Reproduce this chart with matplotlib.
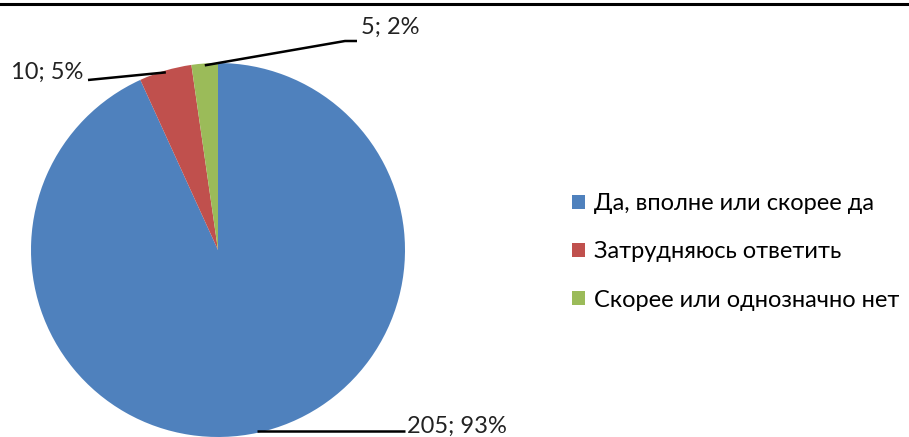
import numpy as np
import matplotlib
matplotlib.use("Agg")
import matplotlib.pyplot as plt
from matplotlib.patches import Patch

categories = ["Да, вполне или скорее да", "Затрудняюсь ответить", "Скорее или однозначно нет"]
values = [205, 10, 5]
percents = ["93%", "5%", "2%"]
colors = ["#4F81BD", "#C0504D", "#9BBB59"]

plt.rcParams['font.family'] = ['Lato', 'DejaVu Sans']

W, H = 909, 437
fig = plt.figure(figsize=(W / 100, H / 100), dpi=100)

cx, cy, r = 218, 250, 187
ax = fig.add_axes([(cx - r) / W, (H - cy - r) / H, 2 * r / W, 2 * r / H])
wedges, _ = ax.pie(values, colors=colors, startangle=90, counterclock=False,
                   radius=1.0, wedgeprops=dict(linewidth=0))
ax.set_xlim(-1, 1)
ax.set_ylim(-1, 1)
ax.set_aspect('equal')
ax.axis('off')

def fig_px_to_data(px, py):
    fx = (px - (cx - r)) / (2 * r) * 2 - 1
    fy = ((H - py) - (H - cy - r)) / (2 * r) * 2 - 1
    return fx, fy

labels = [f"{v}; {p}" for v, p in zip(values, percents)]
label_cfg = [
    dict(path=[(405, None)], text=(407, 426), ha='left'),
    dict(path=[(88, 80)], text=(83, 72), ha='right'),
    dict(path=[(345, 41), (357, 41)], text=(361, 27), ha='left'),
]
for w, lab, cfg in zip(wedges, labels, label_cfg):
    ang = np.deg2rad((w.theta1 + w.theta2) / 2)
    x0, y0 = 0.99 * np.cos(ang), 0.99 * np.sin(ang)
    pts = [(x0, y0)]
    for px, py in cfg['path']:
        dx, dy = fig_px_to_data(px, py if py is not None else 0)
        pts.append((dx, y0 if py is None else dy))
    xs, ys = zip(*pts)
    ax.plot(xs, ys, color='black', lw=1.8, clip_on=False, solid_capstyle='butt')
    tx, ty = fig_px_to_data(*cfg['text'])
    ax.text(tx, ty, lab, ha=cfg['ha'], va='center', fontsize=17, color='#222222', clip_on=False)

handles = [Patch(facecolor=c, edgecolor='none') for c in colors]
fig.legend(handles, categories, loc='center left', bbox_to_anchor=(563 / W, 1 - 252 / H),
           frameon=False, fontsize=17, handlelength=0.55, handleheight=0.55,
           handletextpad=0.35, labelspacing=1.15, borderaxespad=0)

fig.add_artist(plt.Line2D([0, 1], [1 - 3.5 / H, 1 - 3.5 / H], color='black', lw=2.2))

fig.savefig("out.png", dpi=100)
